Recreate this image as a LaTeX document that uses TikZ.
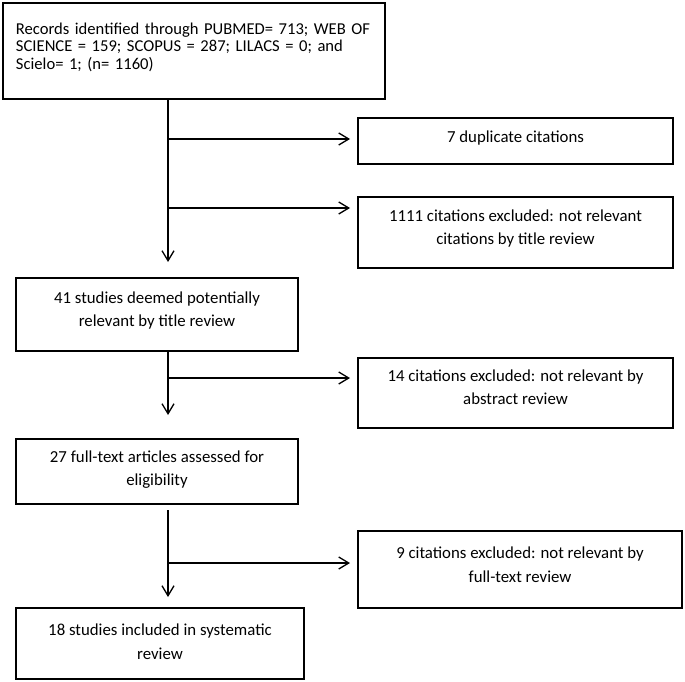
\documentclass[tikz,border=0pt]{standalone}
\usepackage{fontspec}
\setmainfont{Carlito}
\usetikzlibrary{arrows.meta}
\newcommand\dpx[1]{\rule[-#1]{0pt}{0pt}}
\begin{document}
\begin{tikzpicture}[x=1pt,y=-1pt,
  box/.style={draw, line width=2.8pt, inner sep=0pt, outer sep=0pt, align=center,
    font=\fontsize{16.8}{22.5}\selectfont},
  conn/.style={line width=1.3pt},
  arr/.style={conn, -{Straight Barb[length=10pt,width=12pt]}}]
\fill[white] (0,0) rectangle (685,682);
\useasboundingbox (0,0) rectangle (685,682);

\node[box, minimum width=382pt, minimum height=96pt, align=left, text width=356pt,
  font=\fontsize{16.6}{17.5}\selectfont] (rec) at (194,51)
  {Records identified through PUBMED= 713; WEB OF\\SCIENCE = 159; SCOPUS = 287; LILACS = 0; and\\Scielo= 1; (n= 1160)\dpx{10pt}};
\node[box, minimum width=315pt, minimum height=46pt] (dup) at (515.5,141)
  {7 duplicate citations\dpx{8pt}};
\node[box, minimum width=315pt, minimum height=71pt] (exB) at (515.5,232.5)
  {1111 citations excluded: not relevant\\citations by title review\dpx{11pt}};
\node[box, minimum width=282pt, minimum height=73pt] (b41) at (157,314.5)
  {41 studies deemed potentially\\relevant by title review\dpx{11pt}};
\node[box, minimum width=315pt, minimum height=70pt] (ex14) at (515.5,393)
  {14 citations excluded: not relevant by\\abstract review\dpx{12pt}};
\node[box, minimum width=282pt, minimum height=65pt] (b27) at (157,471.5)
  {27 full-text articles assessed for\\eligibility\dpx{7pt}};
\node[box, minimum width=324pt, minimum height=77pt] (ex9) at (520,569.5)
  {9 citations excluded: not relevant by\\[2pt]full-text review\dpx{10pt}};
\node[box, minimum width=288pt, minimum height=71pt] (b18) at (160,643.5)
  {18 studies included in systematic\\[2pt]review\dpx{4pt}};

\coordinate (j1) at (168,139);
\coordinate (j2) at (168,208);
\coordinate (j3) at (168,378);
\coordinate (j4) at (168,563);

\draw[arr, shorten >=16pt] (rec.south -| j1) -- (b41.north -| j1);
\draw[arr, shorten >=8pt] (j1) -- (j1 -| dup.west);
\draw[arr, shorten >=8pt] (j2) -- (j2 -| exB.west);
\draw[arr, shorten >=24pt] (b41.south -| j3) -- (b27.north -| j3);
\draw[arr, shorten >=8pt] (j3) -- (j3 -| ex14.west);
\draw[arr, shorten <=6pt, shorten >=11pt] (b27.south -| j4) -- (b18.north -| j4);
\draw[arr, shorten >=8pt] (j4) -- (j4 -| ex9.west);
\end{tikzpicture}
\end{document}
